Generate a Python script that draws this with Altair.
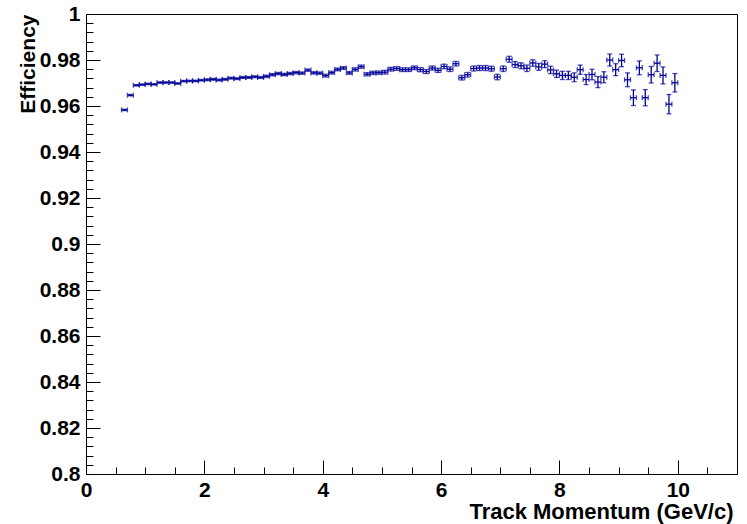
import altair as alt
import pandas as pd

# ---- data ----
momentum = [0.65, 0.75, 0.85, 0.95, 1.05, 1.15, 1.25, 1.35, 1.45, 1.55,
            1.65, 1.75, 1.85, 1.95, 2.05, 2.15, 2.25, 2.35, 2.45, 2.55,
            2.65, 2.75, 2.85, 2.95, 3.05, 3.15, 3.25, 3.35, 3.45, 3.55,
            3.65, 3.75, 3.85, 3.95, 4.05, 4.15, 4.25, 4.35, 4.45, 4.55,
            4.65, 4.75, 4.85, 4.95, 5.05, 5.15, 5.25, 5.35, 5.45, 5.55,
            5.65, 5.75, 5.85, 5.95, 6.05, 6.15, 6.25, 6.35, 6.45, 6.55,
            6.65, 6.75, 6.85, 6.95, 7.05, 7.15, 7.25, 7.35, 7.45, 7.55,
            7.65, 7.75, 7.85, 7.95, 8.05, 8.15, 8.25, 8.35, 8.45, 8.55,
            8.65, 8.75, 8.85, 8.95, 9.05, 9.15, 9.25, 9.35, 9.45, 9.55,
            9.65, 9.75, 9.85, 9.95]

efficiency = [0.9583, 0.9647, 0.9690, 0.9693, 0.9696, 0.9694, 0.9702, 0.9702, 0.9702, 0.9698,
              0.9708, 0.9709, 0.9709, 0.9712, 0.9714, 0.9716, 0.9713, 0.9716, 0.9721, 0.9719,
              0.9724, 0.9724, 0.9727, 0.9724, 0.9729, 0.9736, 0.9741, 0.9737, 0.9741, 0.9745,
              0.9743, 0.9756, 0.9744, 0.9743, 0.9732, 0.9745, 0.9759, 0.9765, 0.9744, 0.9759,
              0.9771, 0.9738, 0.9744, 0.9745, 0.9747, 0.9760, 0.9763, 0.9758, 0.9758, 0.9766,
              0.9758, 0.9750, 0.9765, 0.9755, 0.9772, 0.9760, 0.9784, 0.9723, 0.9736, 0.9763,
              0.9765, 0.9765, 0.9762, 0.9726, 0.9762, 0.9803, 0.9780, 0.9775, 0.9764, 0.9787,
              0.9770, 0.9782, 0.9757, 0.9740, 0.9733, 0.9733, 0.9725, 0.9758, 0.9715, 0.9737,
              0.9704, 0.9725, 0.9800, 0.9758, 0.9798, 0.9714, 0.9636, 0.9766, 0.9636, 0.9736,
              0.9786, 0.9733, 0.9608, 0.9701]

error = [0.0003, 0.0003, 0.0003, 0.0003, 0.0003, 0.0003, 0.0003, 0.0003, 0.0003, 0.0003,
         0.0003, 0.0003, 0.0003, 0.0003, 0.0004, 0.0004, 0.0004, 0.0004, 0.0004, 0.0004,
         0.0004, 0.0004, 0.0004, 0.0004, 0.0005, 0.0005, 0.0005, 0.0005, 0.0005, 0.0005,
         0.0005, 0.0005, 0.0005, 0.0005, 0.0006, 0.0006, 0.0006, 0.0006, 0.0006, 0.0007,
         0.0007, 0.0007, 0.0007, 0.0007, 0.0008, 0.0008, 0.0008, 0.0008, 0.0008, 0.0008,
         0.0009, 0.0009, 0.0009, 0.0009, 0.0010, 0.0010, 0.0010, 0.0010, 0.0010, 0.0011,
         0.0011, 0.0011, 0.0011, 0.0012, 0.0012, 0.0013, 0.0013, 0.0013, 0.0014, 0.0014,
         0.0015, 0.0015, 0.0016, 0.0016, 0.0018, 0.0018, 0.0019, 0.0020, 0.0022, 0.0023,
         0.0024, 0.0024, 0.0026, 0.0026, 0.0027, 0.0030, 0.0034, 0.0030, 0.0035, 0.0036,
         0.0036, 0.0037, 0.0042, 0.0040]

bin_half_width = 0.05

x_major = [0, 2, 4, 6, 8, 10]
x_ticks = [0, 0.5, 1, 1.5, 2, 2.5, 3, 3.5, 4, 4.5, 5, 5.5, 6, 6.5, 7, 7.5,
           8, 8.5, 9, 9.5, 10, 10.5, 11]
y_major = [0.8, 0.82, 0.84, 0.86, 0.88, 0.9, 0.92, 0.94, 0.96, 0.98, 1.0]
y_ticks = [round(0.8 + 0.004 * i, 3) for i in range(51)]

df = pd.DataFrame({"p": momentum, "eff": efficiency, "err": error})
df["lo"] = df["eff"] - df["err"]
df["hi"] = df["eff"] + df["err"]
df["xlo"] = df["p"] - bin_half_width
df["xhi"] = df["p"] + bin_half_width

COLOR = "#000099"
SW = 1.3
FONT = "Liberation Sans"

xs = alt.Scale(domain=[0, 11], nice=False, zero=False)
ys = alt.Scale(domain=[0.8, 1.0], nice=False, zero=False)

x_label_axis = alt.Axis(
    orient="bottom", values=x_major, format="d", tickSize=0, domain=False, grid=False,
    labelFont=FONT, labelFontWeight="bold", labelFontSize=21, labelColor="black",
    labelPadding=5, labelFlush=False,
    title="Track Momentum (GeV/c)", titleFont=FONT, titleFontWeight="bold",
    titleFontSize=22, titleColor="black", titleX=647, titleY=37,
    titleAlign="right", titleBaseline="middle", titleAnchor="end",
)
y_label_axis = alt.Axis(
    orient="left", values=y_major, format="~g", tickSize=0, domain=False, grid=False,
    labelFont=FONT, labelFontWeight="bold", labelFontSize=21, labelColor="black",
    labelPadding=6, labelFlush=False,
    title="Efficiency", titleFont=FONT, titleFontWeight="bold", titleFontSize=21,
    titleColor="black", titleX=-58, titleY=0, titleAngle=270,
    titleAlign="right", titleBaseline="middle", titleAnchor="end",
)

x_tick_axis = alt.Axis(
    orient="top", offset=-460, values=x_ticks, labels=False, domain=False, grid=False,
    title=None, tickColor="black", tickWidth=1,
    tickSize={"condition": {"test": "abs(datum.value/2 - round(datum.value/2)) < 0.001",
                            "value": 14}, "value": 7},
)
y_tick_axis = alt.Axis(
    orient="right", offset=-651, values=y_ticks, labels=False, domain=False, grid=False,
    title=None, tickColor="black", tickWidth=1,
    tickSize={"condition": {"test": "abs(datum.value*50 - round(datum.value*50)) < 0.001",
                            "value": 14}, "value": 7},
)

base = alt.Chart(df)

hbar = base.mark_rule(color=COLOR, strokeWidth=SW).encode(
    x=alt.X("xlo:Q", scale=xs, axis=x_label_axis),
    x2="xhi:Q",
    y=alt.Y("eff:Q", scale=ys, axis=y_label_axis),
)
vbar = base.mark_rule(color=COLOR, strokeWidth=SW).encode(
    x=alt.X("p:Q", scale=xs, axis=x_tick_axis),
    y=alt.Y("lo:Q", scale=ys, axis=y_tick_axis),
    y2="hi:Q",
)
cap_lo = base.mark_tick(color=COLOR, orient="horizontal", size=5, thickness=SW).encode(
    x=alt.X("p:Q", scale=xs, axis=None), y=alt.Y("lo:Q", scale=ys, axis=None))
cap_hi = base.mark_tick(color=COLOR, orient="horizontal", size=5, thickness=SW).encode(
    x=alt.X("p:Q", scale=xs, axis=None), y=alt.Y("hi:Q", scale=ys, axis=None))
cap_l = base.mark_tick(color=COLOR, orient="vertical", size=5, thickness=SW).encode(
    x=alt.X("xlo:Q", scale=xs, axis=None), y=alt.Y("eff:Q", scale=ys, axis=None))
cap_r = base.mark_tick(color=COLOR, orient="vertical", size=5, thickness=SW).encode(
    x=alt.X("xhi:Q", scale=xs, axis=None), y=alt.Y("eff:Q", scale=ys, axis=None))

chart = alt.layer(hbar, vbar, cap_lo, cap_hi, cap_l, cap_r).resolve_axis(
    x="independent", y="independent"
).properties(
    width=651, height=460,
    autosize=alt.AutoSizeParams(type="none"),
    padding={"left": 86, "top": 14, "right": 10, "bottom": 50},
    background="white",
).configure_view(stroke="black", strokeWidth=1)

chart.save("out.html", embed_options={"renderer": "svg", "actions": False})
